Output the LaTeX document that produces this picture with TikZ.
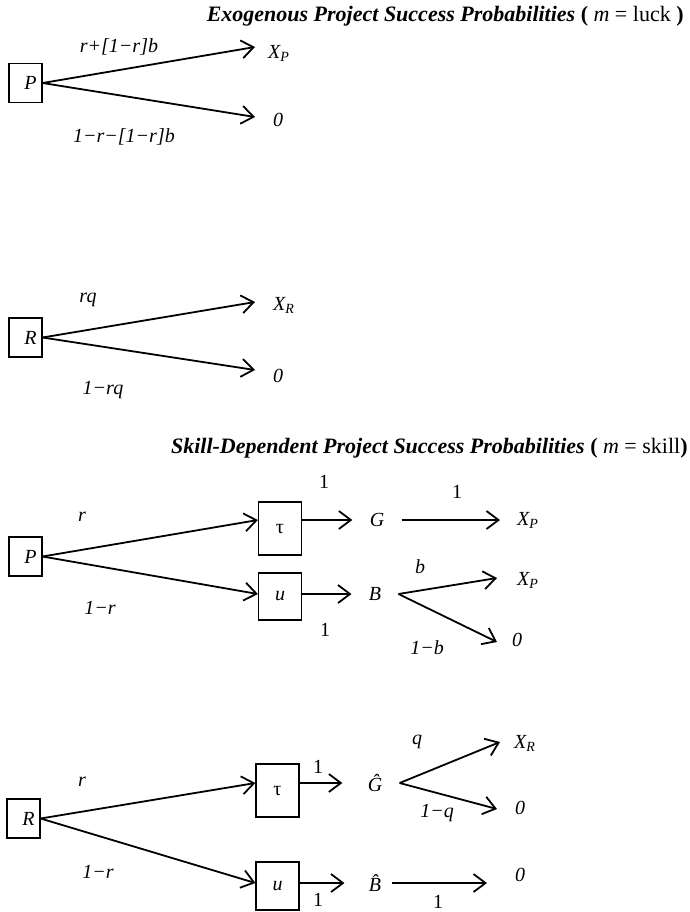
\documentclass[tikz,border=0pt]{standalone}
\usepackage{fontspec}
\setmainfont{Liberation Serif}
\usetikzlibrary{arrows.meta}

\begin{document}
\begin{tikzpicture}[
  x=0.5pt, y=-0.5pt,
  font=\fontsize{10}{12}\selectfont,
  box/.style={draw, line width=0.6pt, minimum width=16.5pt, minimum height=19.5pt, inner sep=0pt},
  act/.style={draw, line width=0.6pt, minimum width=21.5pt, inner sep=0pt},
  arr/.style={-{Straight Barb[length=6pt, width=9pt, line width=0.9pt]}, line width=0.9pt},
  lbl/.style={font=\fontsize{10}{12}\selectfont\itshape, inner sep=0pt},
  num/.style={font=\fontsize{10}{12}\selectfont, inner sep=0pt},
  outc/.style={font=\fontsize{10}{12}\selectfont\itshape, inner xsep=8.5pt, inner ysep=0pt},
  hdr/.style={font=\fontsize{11}{13}\selectfont, anchor=east, inner sep=0pt},
]
  \useasboundingbox (0,0) rectangle (690,912);

  % Headings
  \node[hdr] (head1) at (684,16)
    {\textbf{\textit{Exogenous Project Success Probabilities}} \textbf{(} \textit{m} = luck \textbf{)}};
  \node[hdr] (head2) at (688,448)
    {\textbf{\textit{Skill-Dependent Project Success Probabilities}} \textbf{(} \textit{m} = skill\textbf{)}};

  % Exogenous, project P
  \node[box] (P1) at (25.5,83) {\hspace*{5pt}\textit{P}};
  \coordinate (hi1) at (255,47);
  \coordinate (lo1) at (255,117);
  \node[lbl] (XP1) at (279,53) {X\textsubscript{P}};
  \node[lbl] (z1) at (278,120) {0};
  \draw[arr] (P1.east) -- (hi1);
  \draw[arr] (P1.east) -- (lo1);
  \node[lbl] at (119,47) {r+[1−r]b};
  \node[lbl] at (124,137) {1−r−[1−r]b};

  % Exogenous, project R
  \node[box] (R1) at (25.5,337.5) {\hspace*{5pt}\textit{R}};
  \coordinate (hi2) at (255,302);
  \coordinate (lo2) at (255,370);
  \node[lbl] (XR1) at (284,305) {X\textsubscript{R}};
  \node[lbl] (z2) at (278,376) {0};
  \draw[arr] (R1.east) -- (hi2);
  \draw[arr] (R1.east) -- (lo2);
  \node[lbl] at (88,300) {rq};
  \node[lbl] at (103,390) {1−rq};

  % Skill-dependent, project P
  \node[box] (P2) at (25.5,556.5) {\hspace*{5pt}\textit{P}};
  \node[act, minimum height=26.5pt] (tau1) at (280,528.5) {τ};
  \node[act, minimum height=23.5pt] (u1) at (280,596.5) {\textit{u}};
  \node[outc] (G1) at (377,520) {G};
  \node[outc] (B1) at (375,594) {B};
  \coordinate (hi3) at (500,520);
  \coordinate (hi4) at (497,578);
  \coordinate (lo4) at (497,642);
  \node[lbl] (XP2) at (528,520) {X\textsubscript{P}};
  \node[lbl] (XP3) at (528,580) {X\textsubscript{P}};
  \node[lbl] (z3) at (517,640) {0};
  \draw[arr] (P2.east) -- (tau1.west |- G1);
  \draw[arr] (P2.east) -- (u1.west |- B1);
  \draw[arr] (tau1.east |- G1) -- (G1);
  \draw[arr] (u1.east |- B1) -- (B1);
  \draw[arr] (G1.east) -- (hi3);
  \draw[arr] (B1.east) -- (hi4);
  \draw[arr] (B1.east) -- (lo4);
  \node[lbl] at (82,517) {r};
  \node[lbl] at (100,608) {1−r};
  \node[num] at (324,482) {1};
  \node[num] at (457,492) {1};
  \node[num] at (325,630) {1};
  \node[lbl] at (420,567) {b};
  \node[lbl] at (427,648) {1−b};

  % Skill-dependent, project R
  \node[box] (R2) at (23.5,818.5) {\hspace*{5pt}\textit{R}};
  \node[act, minimum height=26.5pt] (tau2) at (277.5,790.5) {τ};
  \node[act, minimum height=24pt] (u2) at (277.5,886) {\textit{u}};
  \node[outc] (G2) at (375,783) {\^{G}};
  \node[outc, inner xsep=5pt] (B2) at (375,883) {\^{B}};
  \coordinate (hi5) at (500,742);
  \coordinate (lo5) at (497,809);
  \coordinate (lo6) at (487,883);
  \node[lbl] (XR2) at (525,743) {X\textsubscript{R}};
  \node[lbl] (z4) at (520,808) {0};
  \node[lbl] (z5) at (520,875) {0};
  \draw[arr] (R2.east) -- (tau2.west |- G2);
  \draw[arr] (R2.east) -- (u2.west |- B2);
  \draw[arr] (tau2.east |- G2) -- ([xshift=-4pt]G2.west);
  \draw[arr] (u2.east |- B2) -- ([xshift=-7pt]B2.west);
  \draw[arr] (G2.east) -- (hi5);
  \draw[arr] (G2.east) -- (lo5);
  \draw[arr] (B2.east) -- (lo6);
  \node[lbl] at (82,782) {r};
  \node[lbl] at (98,872) {1−r};
  \node[num] at (318,767) {1};
  \node[num] at (318,900) {1};
  \node[num] at (438,902) {1};
  \node[lbl] at (417,742) {q};
  \node[lbl] at (437,813) {1−q};
\end{tikzpicture}
\end{document}
